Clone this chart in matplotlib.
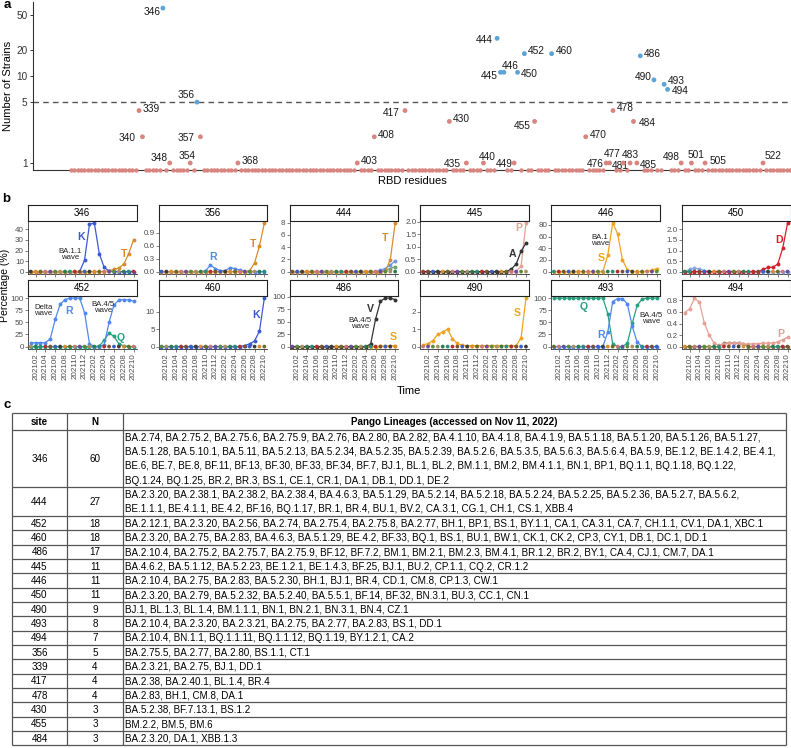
import matplotlib

matplotlib.use("Agg")
import matplotlib.pyplot as plt
import numpy as np
from matplotlib.ticker import NullLocator

plt.rcParams["font.family"] = ["Liberation Sans", "DejaVu Sans"]

W, H = 791, 748

# ---------------- panel a: strains per RBD residue ----------------
rbd_first, rbd_last = 319, 541
sites = [339, 340, 346, 348, 354, 356, 357, 368, 403, 408, 417, 430, 435, 440,
         444, 445, 446, 449, 450, 452, 455, 460, 470, 476, 477, 478, 481, 483,
         484, 485, 486, 490, 493, 494, 498, 501, 505, 522]
counts = [4, 2, 60, 1, 1, 5, 2, 1, 1, 2, 4, 3, 1, 1,
          27, 11, 11, 1, 11, 18, 3, 18, 2, 1, 1, 4, 1, 1,
          3, 1, 17, 9, 8, 7, 1, 1, 1, 1]
threshold = 5

# label placement (dx px, dy px, ha) - mimics the repel layout
label_pos = {
    339: (4, 1.7, "left"), 340: (-7, -1.7, "right"), 346: (-2, -3.7, "right"),
    348: (-2.3, 5, "right"), 354: (-2.7, 6.7, "center"), 356: (-2.7, 6.7, "right"),
    357: (-6, -1.7, "right"), 368: (4, 2.3, "left"), 403: (4, 2.3, "left"),
    408: (3.3, 1.7, "left"), 417: (-5.7, -2.3, "right"), 430: (3.3, 2.3, "left"),
    435: (-5.7, -1.3, "right"), 440: (4.3, 6, "center"), 444: (-4, -1.7, "right"),
    445: (-2.3, -3.7, "right"), 446: (6, 6.7, "center"), 449: (-1.7, -1.3, "right"),
    450: (3.7, -2, "left"), 452: (3.7, 2.3, "left"), 455: (-4, -4.3, "right"),
    460: (3.7, 2.3, "left"), 470: (4, 2, "left"), 476: (-2.7, -1.3, "right"),
    477: (3, 8.7, "center"), 478: (4, 2.3, "left"), 481: (-3, -3, "center"),
    483: (0.7, 7.7, "center"), 484: (5, -2, "left"), 485: (2.7, -1.7, "left"),
    486: (3.7, 2.3, "left"), 490: (-2.7, 2.7, "right"), 493: (4, 3, "left"),
    494: (4, -2, "left"), 498: (-1.7, 6, "right"), 501: (5, 7.7, "center"),
    505: (4, 2.3, "left"), 522: (1.7, 7.3, "left"),
}

# ---------------- panel b: monthly percentage per site ----------------
months = ["202101", "202102", "202103", "202104", "202105", "202106",
          "202107", "202108", "202109", "202110", "202111", "202112",
          "202201", "202202", "202203", "202204", "202205", "202206",
          "202207", "202208", "202209", "202210"]
zero = [0] * 22

k346 = [0, 0, 0, 0, 0, 0, 0, 0, 0, 0, 0, 11, 45, 46, 17, 4, 0.5, 0, 0, 0, 0, 0]
t346 = [0, 0, 0, 0, 0, 0, 0, 0, 0, 0, 0, 0, 0, 0, 0, 0, 1, 2, 3.5, 7, 17, 30]
r356 = [0, 0, 0, 0, 0, 0, 0, 0, 0, 0.02, 0.15, 0.07, 0.02, 0.02, 0.09, 0.07, 0.03, 0, 0, 0, 0, 0]
t356 = [0, 0, 0, 0, 0, 0, 0, 0, 0, 0, 0, 0, 0, 0, 0, 0, 0, 0, 0.02, 0.2, 0.6, 1.13]
t444 = [0, 0, 0, 0, 0, 0, 0, 0, 0, 0, 0, 0, 0, 0, 0, 0, 0, 0, 0, 0.1, 1.9, 7.9]
b444 = [0, 0, 0, 0, 0, 0, 0, 0, 0, 0, 0, 0, 0, 0, 0, 0, 0, 0, 0.25, 0.5, 1.05, 1.75]
g444 = [0, 0, 0, 0, 0, 0, 0, 0, 0, 0, 0, 0, 0, 0, 0, 0, 0, 0, 0, 0.2, 0.5, 0.8]
a445 = [0, 0, 0, 0, 0, 0, 0, 0, 0, 0, 0, 0, 0, 0, 0, 0, 0, 0, 0.1, 0.3, 0.82, 1.14]
p445 = [0, 0, 0, 0, 0, 0, 0, 0, 0, 0, 0, 0, 0, 0, 0, 0, 0, 0, 0, 0, 0.22, 1.95]
s446 = [0, 0, 0, 0, 0, 0, 0, 0, 0, 0, 0, 28, 83, 65, 20, 3, 0, 0, 0, 0.5, 2, 5]
d450 = [0, 0, 0, 0, 0, 0, 0, 0, 0, 0, 0, 0, 0, 0, 0, 0, 0.1, 0.2, 0.2, 0.36, 1.1, 2.3]
l450 = [0, 0.11, 0.16, 0.13, 0.05, 0, 0, 0, 0, 0, 0, 0, 0, 0, 0, 0, 0, 0, 0, 0, 0, 0]
r452 = [8, 8, 8, 8, 16, 56, 87, 97, 100, 100, 100, 70, 6, 0, 0, 4, 50, 86, 96, 97, 96, 94]
q452 = [0, 0, 0, 0, 0, 0, 0, 0, 0, 0, 0, 0, 0, 0, 1, 13, 28, 21, 6, 1, 0, 0]
k460 = [0, 0, 0, 0, 0, 0, 0, 0, 0, 0, 0, 0, 0, 0, 0, 0, 0, 0.3, 0.8, 1.6, 4.5, 14]
v486 = [0, 0, 0, 0, 0, 0, 0, 0, 0, 0, 0, 0, 0, 0, 0, 0, 5, 55, 91, 97, 97, 94]
s486 = [0, 0, 0, 0, 0, 0, 0, 0, 0, 0, 0, 0, 0, 0, 0, 0, 0, 0, 0.5, 1, 1.5, 2]
s490 = [0.1, 0.17, 0.35, 0.7, 0.85, 1.0, 0.45, 0.18, 0.07, 0.05, 0.05, 0.05,
        0.05, 0.05, 0.05, 0.05, 0.05, 0.05, 0.05, 0.05, 0.5, 2.8]
q493 = [100, 100, 100, 100, 100, 100, 100, 100, 100, 100, 100, 68, 6, 0, 0, 7, 48, 85, 98, 100, 100, 100]
r493 = [0, 0, 0, 0, 0, 0, 0, 0, 0, 0, 0, 30, 93, 99, 99, 88, 42, 9, 0, 0, 0, 0]
p494 = [0.59, 0.65, 0.84, 0.77, 0.41, 0.2, 0.06, 0.02, 0.05, 0.06, 0.06, 0.06,
        0.05, 0.04, 0.05, 0.05, 0.06, 0.06, 0.06, 0.08, 0.12, 0.16]
g494 = [0, 0, 0, 0, 0, 0, 0, 0, 0.06, 0.06, 0.06, 0.06, 0.05, 0, 0, 0, 0, 0, 0, 0, 0, 0]

K_BLUE = "#3A5BD0"
R_BLUE = "#5088EE"
T_ORANGE = "#D98B2F"
S_AMBER = "#F0A31E"
Q_TEAL = "#27A07E"
DARK = "#333333"
P_PINK = "#E6A095"
D_RED = "#D2202A"

facets = [
    ("346", [(k346, K_BLUE), (t346, T_ORANGE)]),
    ("356", [(r356, R_BLUE), (t356, T_ORANGE)]),
    ("444", [(g444, "#6FA36A"), (b444, "#6E95E8"), (t444, T_ORANGE)]),
    ("445", [(p445, P_PINK), (a445, DARK)]),
    ("446", [(s446, S_AMBER)]),
    ("450", [(l450, "#86A6E6"), (d450, D_RED)]),
    ("452", [(q452, Q_TEAL), (r452, R_BLUE)]),
    ("460", [(k460, K_BLUE)]),
    ("486", [(s486, S_AMBER), (v486, DARK)]),
    ("490", [(s490, S_AMBER)]),
    ("493", [(q493, Q_TEAL), (r493, R_BLUE)]),
    ("494", [(g494, "#7A7A55"), (p494, P_PINK)]),
]
facet_ticks = {
    "346": [0, 10, 20, 30, 40], "356": [0, 0.3, 0.6, 0.9], "444": [0, 2, 4, 6, 8],
    "445": [0, 0.5, 1, 1.5, 2], "446": [0, 20, 40, 60, 80], "450": [0, 0.5, 1, 1.5, 2],
    "452": [0, 25, 50, 75, 100], "460": [0, 5, 10], "486": [0, 25, 50, 75, 100],
    "490": [0, 1, 2], "493": [0, 25, 50, 75, 100], "494": [0, 0.2, 0.4, 0.6, 0.8],
}
# (text, x, y, color, big letter?)
notes = {
    "346": [("K", 10.2, 33, K_BLUE, True), ("BA.1.1\nwave", 8.1, 16, "#222222", False),
            ("T", 19.0, 16.5, T_ORANGE, True)],
    "356": [("R", 10.5, 0.33, R_BLUE, True), ("T", 18.6, 0.65, T_ORANGE, True)],
    "444": [("T", 19.0, 5.45, T_ORANGE, True)],
    "445": [("A", 18.2, 0.71, DARK, True), ("P", 19.5, 1.74, P_PINK, True)],
    "446": [("BA.1\nwave", 9.4, 53.5, "#222222", False), ("S", 9.6, 24, S_AMBER, True)],
    "450": [("D", 19.2, 1.5, D_RED, True)],
    "452": [("Delta\nwave", 2.6, 74, "#222222", False), ("R", 7.9, 74, R_BLUE, True),
            ("BA.4/5\nwave", 14.7, 80, "#222222", False), ("Q", 18.4, 18, Q_TEAL, True)],
    "460": [("K", 19.3, 9.1, K_BLUE, True)],
    "486": [("V", 16.0, 76, DARK, True), ("BA.4/5\nwave", 13.9, 46, "#222222", False),
            ("S", 20.7, 18.5, S_AMBER, True)],
    "490": [("S", 19.3, 1.94, S_AMBER, True)],
    "493": [("Q", 6.1, 82, Q_TEAL, True), ("R", 9.6, 24, R_BLUE, True),
            ("BA.4/5\nwave", 19.9, 58, "#222222", False)],
    "494": [("P", 19.7, 0.225, P_PINK, True)],
}
BASE = ["#3C3C3C", "#2E7D4F", "#6B6B2A", "#B03030", "#6A4C9C", "#3B5FC0",
        "#A89060", "#D98C2E", "#2C8C7C", "#C87878", "#7A5230", "#5A8A3A"]

# ---------------- panel c: table ----------------
tab_site = ["346", "444", "452", "460", "486", "445", "446", "450", "490", "493",
            "494", "356", "339", "417", "478", "430", "455", "484"]
tab_n = [60, 27, 18, 18, 17, 11, 11, 11, 9, 8, 7, 5, 4, 4, 4, 3, 3, 3]
tab_lineages = [
    "BA.2.74, BA.2.75.2, BA.2.75.6, BA.2.75.9, BA.2.76, BA.2.80, BA.2.82, BA.4.1.10, BA.4.1.8, BA.4.1.9, BA.5.1.18, BA.5.1.20, BA.5.1.26, BA.5.1.27,\n"
    "BA.5.1.28, BA.5.10.1, BA.5.11, BA.5.2.13, BA.5.2.34, BA.5.2.35, BA.5.2.39, BA.5.2.6, BA.5.3.5, BA.5.6.3, BA.5.6.4, BA.5.9, BE.1.2, BE.1.4.2, BE.4.1,\n"
    "BE.6, BE.7, BE.8, BF.11, BF.13, BF.30, BF.33, BF.34, BF.7, BJ.1, BL.1, BL.2, BM.1.1, BM.2, BM.4.1.1, BN.1, BP.1, BQ.1.1, BQ.1.18, BQ.1.22,\n"
    "BQ.1.24, BQ.1.25, BR.2, BR.3, BS.1, CE.1, CR.1, DA.1, DB.1, DD.1, DE.2",
    "BA.2.3.20, BA.2.38.1, BA.2.38.2, BA.2.38.4, BA.4.6.3, BA.5.1.29, BA.5.2.14, BA.5.2.18, BA.5.2.24, BA.5.2.25, BA.5.2.36, BA.5.2.7, BA.5.6.2,\n"
    "BE.1.1.1, BE.4.1.1, BE.4.2, BF.16, BQ.1.17, BR.1, BR.4, BU.1, BV.2, CA.3.1, CG.1, CH.1, CS.1, XBB.4",
    "BA.2.12.1, BA.2.3.20, BA.2.56, BA.2.74, BA.2.75.4, BA.2.75.8, BA.2.77, BH.1, BP.1, BS.1, BY.1.1, CA.1, CA.3.1, CA.7, CH.1.1, CV.1, DA.1, XBC.1",
    "BA.2.3.20, BA.2.75, BA.2.83, BA.4.6.3, BA.5.1.29, BE.4.2, BF.33, BQ.1, BS.1, BU.1, BW.1, CK.1, CK.2, CP.3, CY.1, DB.1, DC.1, DD.1",
    "BA.2.10.4, BA.2.75.2, BA.2.75.7, BA.2.75.9, BF.12, BF.7.2, BM.1, BM.2.1, BM.2.3, BM.4.1, BR.1.2, BR.2, BY.1, CA.4, CJ.1, CM.7, DA.1",
    "BA.4.6.2, BA.5.1.12, BA.5.2.23, BE.1.2.1, BE.1.4.3, BF.25, BJ.1, BU.2, CP.1.1, CQ.2, CR.1.2",
    "BA.2.10.4, BA.2.75, BA.2.83, BA.5.2.30, BH.1, BJ.1, BR.4, CD.1, CM.8, CP.1.3, CW.1",
    "BA.2.3.20, BA.2.79, BA.5.2.32, BA.5.2.40, BA.5.5.1, BF.14, BF.32, BN.3.1, BU.3, CC.1, CN.1",
    "BJ.1, BL.1.3, BL.1.4, BM.1.1.1, BN.1, BN.2.1, BN.3.1, BN.4, CZ.1",
    "BA.2.10.4, BA.2.3.20, BA.2.3.21, BA.2.75, BA.2.77, BA.2.83, BS.1, DD.1",
    "BA.2.10.4, BN.1.1, BQ.1.1.11, BQ.1.1.12, BQ.1.19, BY.1.2.1, CA.2",
    "BA.2.75.5, BA.2.77, BA.2.80, BS.1.1, CT.1",
    "BA.2.3.21, BA.2.75, BJ.1, DD.1",
    "BA.2.38, BA.2.40.1, BL.1.4, BR.4",
    "BA.2.83, BH.1, CM.8, DA.1",
    "BA.5.2.38, BF.7.13.1, BS.1.2",
    "BM.2.2, BM.5, BM.6",
    "BA.2.3.20, DA.1, XBB.1.3",
]

fig = plt.figure(figsize=(W / 100, H / 100), dpi=100, facecolor="white")


def px_axes(left, top, width, height):
    return fig.add_axes([left / W, 1 - (top + height) / H, width / W, height / H])


# full-figure canvas in pixel units for the table and panel letters
canvas = fig.add_axes([0, 0, 1, 1])
canvas.set_xlim(0, W)
canvas.set_ylim(H, 0)
canvas.axis("off")
for letter, (lx, ly) in {"a": (7, 5), "b": (6, 199), "c": (7, 405)}.items():
    canvas.text(lx, ly, letter, fontsize=9.5, fontweight="bold", ha="center", va="center")

# ---- a
ax = px_axes(33, 2, 758, 168)
ax.set_yscale("log")
ax.set_xlim(307.9, 530.2)
ax.set_ylim(0.831, 70.5)
zero_sites = [r for r in range(rbd_first, rbd_last + 1) if r not in sites]
ax.scatter(zero_sites, np.full(len(zero_sites), 0.831), s=10, color="#D9857F",
           lw=0, zorder=3, clip_on=False)
colors = ["#5DA3D5" if c >= threshold else "#D9857F" for c in counts]
ax.scatter(sites, counts, s=12, c=colors, lw=0, zorder=4)
ax.axhline(threshold, color="#555555", lw=1.0, ls=(0, (4, 3)), zorder=2)
for s_, c_ in zip(sites, counts):
    dx, dy, ha = label_pos[s_]
    ax.annotate(str(s_), (s_, c_), xytext=(dx, dy), textcoords="offset pixels",
                ha=ha, va="center", fontsize=7.3, color="#1a1a1a")
ax.set_yticks([1, 5, 10, 20, 50])
ax.set_yticklabels(["1", "5", "10", "20", "50"])
ax.yaxis.set_minor_locator(NullLocator())
ax.set_xticks([])
for side in ("top", "right"):
    ax.spines[side].set_visible(False)
for side in ("left", "bottom"):
    ax.spines[side].set_color("#333333")
    ax.spines[side].set_linewidth(0.8)
ax.tick_params(axis="y", labelsize=7.2, colors="#333333", length=2.5, width=0.7, pad=1.5)
ax.set_ylabel("Number of Strains", fontsize=8, labelpad=2)
ax.set_xlabel("RBD residues", fontsize=8, labelpad=4)

# ---- b
COL_LEFT, COL_STEP, PW, PH, STRIP_H = 28, 130.8, 108.5, 53.3, 15.7
ROW_TOP = [220.7, 295.7]
x = np.arange(len(months))
for p, (site, series) in enumerate(facets):
    row, col = divmod(p, 6)
    left = COL_LEFT + col * COL_STEP
    top = ROW_TOP[row]
    bx = px_axes(left, top, PW, PH)
    mx = max(max(v) for v, _ in series)
    for vals, color in series:
        bx.plot(x, vals, color=color, lw=0.9, marker="o", ms=2.8, mew=0, zorder=3)
    base_cols = [BASE[(i * 7 + p * 5) % len(BASE)] for i in range(len(months))]
    bx.scatter(x, zero, s=7.5, c=base_cols, lw=0, zorder=4)
    for txt, tx, ty, tc, big in notes[site]:
        if big:
            bx.text(tx, ty, txt, color=tc, fontsize=7.6, fontweight="bold",
                    ha="center", va="center", zorder=5)
        else:
            bx.text(tx, ty, txt, color=tc, fontsize=5.6, ha="center", va="center",
                    linespacing=0.85, zorder=5)
    bx.set_xlim(-0.55, 21.6)
    bx.set_ylim(-0.05 * mx, 1.05 * mx)
    ticks = facet_ticks[site]
    bx.set_yticks(ticks)
    if any(t != int(t) for t in ticks):
        bx.set_yticklabels([f"{t:.1f}" for t in ticks])
    else:
        bx.set_yticklabels([str(int(t)) for t in ticks])
    bx.set_xticks(x[1::2])
    if row == 1:
        bx.set_xticklabels(months[1::2], rotation=90)
    else:
        bx.set_xticklabels([])
    for side in ("top", "right"):
        bx.spines[side].set_visible(False)
    for side in ("left", "bottom"):
        bx.spines[side].set_color("#333333")
        bx.spines[side].set_linewidth(0.6)
    bx.tick_params(labelsize=5.8, colors="#4D4D4D", length=2, width=0.5, pad=1)
    sx = px_axes(left, top - STRIP_H, PW, STRIP_H)
    sx.set_xticks([])
    sx.set_yticks([])
    for sp in sx.spines.values():
        sp.set_linewidth(0.8)
        sp.set_color("#222222")
    sx.text(0.5, 0.5, site, ha="center", va="center", fontsize=7, transform=sx.transAxes)

fig.text(409 / W, 1 - 391 / H, "Time", ha="center", va="center", fontsize=8)
fig.text(5 / W, 1 - 285 / H, "Percentage (%)", ha="center", va="center",
         rotation=90, fontsize=7.6)

# ---- c
X0, X1, X2, X3 = 12, 67, 123, 786
TOP, HEAD_H, LH = 412.5, 17.5, 14.33
LINE_C, LW = "#555555", 0.9
TFS = 7.13
y = TOP + HEAD_H
canvas.hlines([TOP, y], X0, X3, color=LINE_C, lw=LW)
canvas.text((X0 + X1) / 2, TOP + HEAD_H / 2 + 0.5, "site", ha="center", va="center",
            fontsize=TFS, fontweight="bold")
canvas.text((X1 + X2) / 2, TOP + HEAD_H / 2 + 0.5, "N", ha="center", va="center",
            fontsize=TFS, fontweight="bold")
canvas.text((X2 + X3) / 2, TOP + HEAD_H / 2 + 0.5, "Pango Lineages (accessed on Nov 11, 2022)",
            ha="center", va="center", fontsize=TFS, fontweight="bold")
for site, n, lin in zip(tab_site, tab_n, tab_lineages):
    lines = lin.split("\n")
    h = len(lines) * LH
    canvas.text((X0 + X1) / 2, y + h / 2 + 0.5, site, ha="center", va="center", fontsize=TFS)
    canvas.text((X1 + X2) / 2, y + h / 2 + 0.5, str(n), ha="center", va="center", fontsize=TFS)
    for k, line in enumerate(lines):
        canvas.text(X2 + 2, y + (k + 0.5) * LH + 0.5, line, ha="left", va="center",
                    fontsize=TFS)
    y += h
    canvas.hlines(y, X0, X3, color=LINE_C, lw=LW)
canvas.vlines([X0, X1, X2, X3], TOP, y, color=LINE_C, lw=LW)

fig.savefig("out.png", dpi=100, facecolor="white")
